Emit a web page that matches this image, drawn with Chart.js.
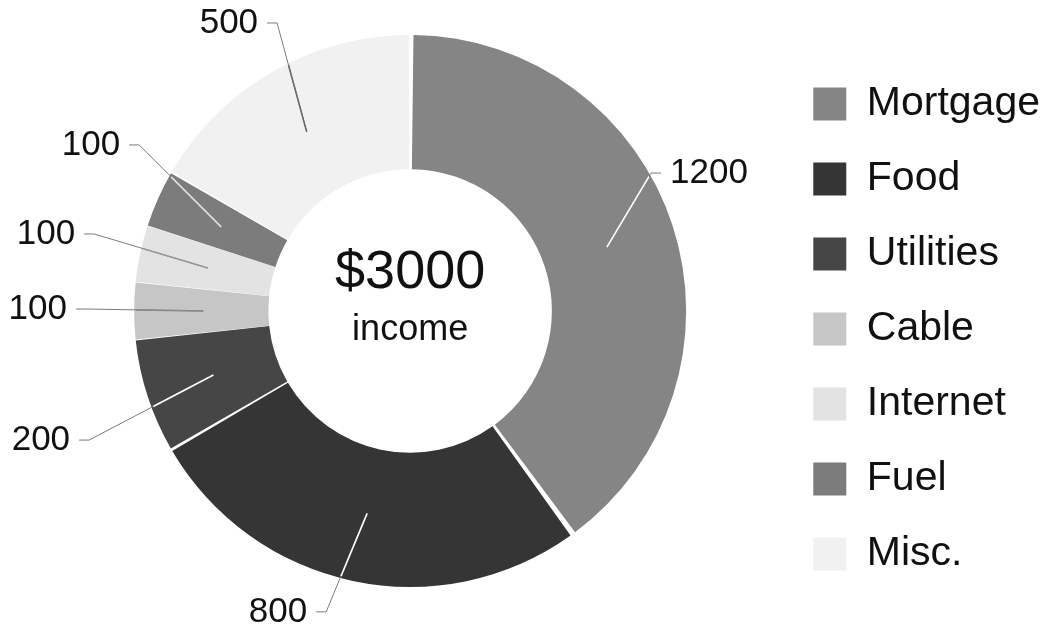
<!DOCTYPE html>
<html>
<head>
<meta charset="utf-8">
<script src="https://cdn.jsdelivr.net/npm/chart.js@4.4.1/dist/chart.umd.min.js"></script>
<style>
  html, body { margin: 0; padding: 0; background: #fff; }
  #wrap { width: 1055px; height: 636px; }
</style>
</head>
<body>
<div id="wrap"><canvas id="budgetChart" width="1055" height="636"></canvas></div>
<script>
// budget split of the monthly income
var categories = ["Mortgage", "Food", "Utilities", "Cable", "Internet", "Fuel", "Misc."];
var amounts = [1200, 800, 200, 100, 100, 100, 500];

// slice fills (grey tones of the stippled original)
var sliceColors = ["#858585", "#353535", "#464646", "#c6c6c6", "#e3e3e3", "#7c7c7c", "#f1f1f1"];
// leader line colour where it runs over its own slice
var leaderInside = ["#ffffff", "#ffffff", "#ffffff", "#8a8a8a", "#9a9a9a", "#e0e0e0", "#6a6a6a"];
// where each value label sits: angle (deg, clockwise from top) and radius / outer radius
var calloutAngle = [60.2, 195.6, 248.1, 270.35, 283.7, 301.5, 335.2];
var calloutRadius = [1.013, 1.14, 1.263, 1.183, 1.187, 1.16, 1.158];

var FONT = "'Liberation Sans', Arial, Helvetica, sans-serif";

var calloutPlugin = {
  id: "callouts",
  afterDatasetsDraw: function (chart) {
    var ctx = chart.ctx;
    var meta = chart.getDatasetMeta(0);
    meta.data.forEach(function (arc, i) {
      var p = arc.getProps(["x", "y", "startAngle", "endAngle", "innerRadius", "outerRadius"], true);
      var mid = (p.startAngle + p.endAngle) / 2;
      var rMid = (p.innerRadius + p.outerRadius) / 2;
      var x0 = p.x + Math.cos(mid) * rMid;
      var y0 = p.y + Math.sin(mid) * rMid;
      var a = calloutAngle[i] * Math.PI / 180;
      var re = calloutRadius[i] * p.outerRadius;
      var x1 = p.x + Math.sin(a) * re;
      var y1 = p.y - Math.cos(a) * re;
      var right = x1 > p.x;
      var x2 = right ? x1 + 10 : x1 - 10;

      ctx.save();
      ctx.lineWidth = 1;
      ctx.strokeStyle = "#7a7a7a";
      ctx.beginPath();
      ctx.moveTo(x0, y0);
      ctx.lineTo(x1, y1);
      ctx.lineTo(x2, y1);
      ctx.stroke();
      // part running over the ring
      ctx.beginPath();
      ctx.arc(p.x, p.y, p.outerRadius, 0, Math.PI * 2);
      ctx.clip();
      ctx.lineWidth = 1.6;
      ctx.strokeStyle = leaderInside[i];
      ctx.beginPath();
      ctx.moveTo(x0, y0);
      ctx.lineTo(x1, y1);
      ctx.stroke();
      ctx.restore();

      ctx.save();
      ctx.fillStyle = "#111";
      ctx.font = "35px " + FONT;
      ctx.textBaseline = "middle";
      ctx.textAlign = right ? "left" : "right";
      ctx.fillText(String(amounts[i]), right ? x2 + 9 : x2 - 9, y1);
      ctx.restore();
    });

    // centre text
    var c = meta.data[0];
    var total = amounts.reduce(function (s, v) { return s + v; }, 0);
    ctx.save();
    ctx.fillStyle = "#111";
    ctx.textAlign = "center";
    ctx.textBaseline = "middle";
    ctx.font = "54px " + FONT;
    ctx.fillText("$" + total, c.x, c.y - 38);
    ctx.font = "36px " + FONT;
    ctx.fillText("income", c.x, c.y + 19);
    ctx.restore();
  }
};

var ctxD = document.getElementById("budgetChart").getContext("2d");
var budgetChart = new Chart(ctxD, {
  type: "doughnut",
  data: {
    labels: categories,
    datasets: [
      {
        data: amounts,
        backgroundColor: sliceColors,
        borderWidth: 0,
        spacing: 4,
      },
    ],
  },
  options: {
    responsive: false,
    animation: false,
    radius: 274,
    cutout: "51%",
    layout: { padding: { left: 41, right: 5, top: 0, bottom: 14 } },
    plugins: {
      tooltip: { enabled: false },
      legend: {
        position: "right",
        align: "center",
        title: { display: true, text: " ", font: { size: 20 }, padding: 6 },
        labels: {
          boxWidth: 33,
          boxHeight: 33,
          padding: 34,
          color: "#111",
          font: { size: 41, family: FONT },
        },
      },
    },
  },
  plugins: [calloutPlugin],
});
</script>
</body>
</html>
